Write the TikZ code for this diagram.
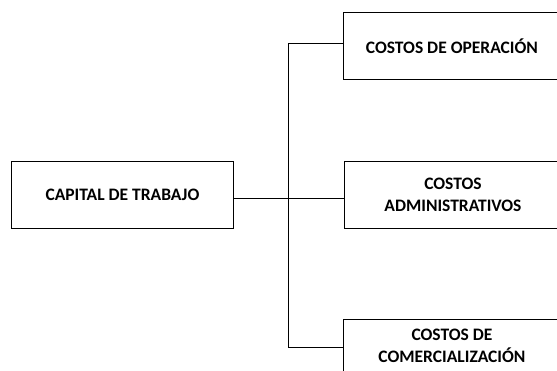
\documentclass[tikz,border=0pt]{standalone}
\usepackage{fontspec}
\setmainfont{Carlito}
\tikzset{
  cbox/.style={draw, line width=0.9pt, font=\bfseries\fontsize{17.5}{22}\selectfont,
               align=center, minimum width=217pt, minimum height=67pt,
               inner sep=0pt, anchor=north west},
  lnk/.style={line width=0.8pt},
}
\begin{document}
\begin{tikzpicture}[x=1pt,y=-1pt]
\useasboundingbox (0,0) rectangle (557,371);
\clip (0,0) rectangle (557,371);
\node[cbox, minimum width=222pt] (capital)   at (11,161)  {CAPITAL DE TRABAJO};
\node[cbox]                      (operacion) at (343,12)  {COSTOS DE OPERACIÓN};
\node[cbox]                      (admin)     at (344,161) {COSTOS\\ADMINISTRATIVOS};
\node[cbox, minimum height=53pt] (comerc)    at (343,319) {COSTOS DE\\COMERCIALIZACIÓN};
\coordinate (hub) at (288.5,198.5);
\draw[lnk] (capital.east |- hub) -- (hub);
\draw[lnk] ([yshift=3pt]operacion.west) -| (hub) -- (admin.west |- hub);
\draw[lnk] (hub) |- ([yshift=-1pt]comerc.west);
\end{tikzpicture}
\end{document}
